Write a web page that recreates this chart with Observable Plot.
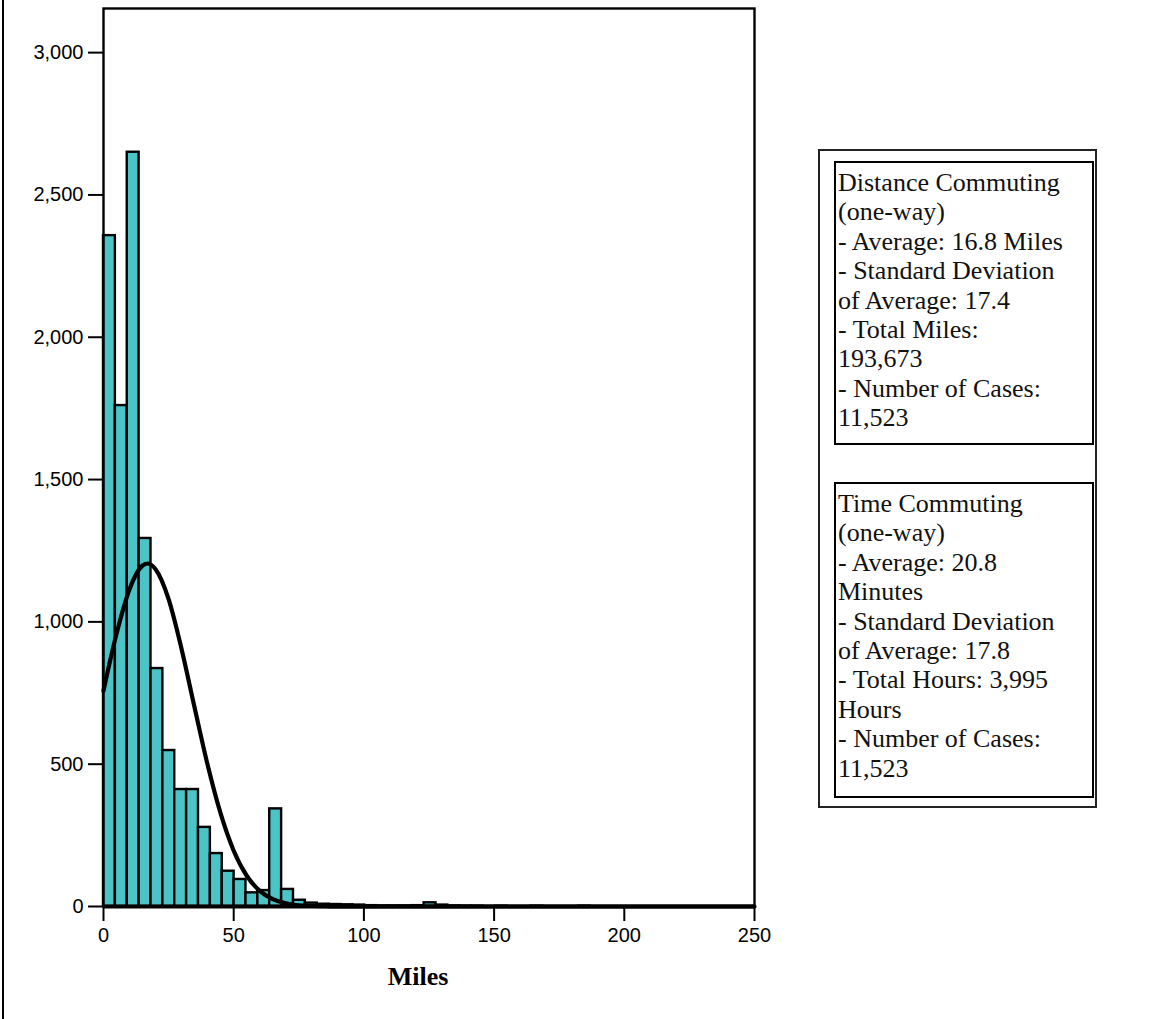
<!DOCTYPE html>
<html>
<head>
<meta charset="utf-8">
<script src="https://cdn.jsdelivr.net/npm/d3@7"></script>
<script src="https://cdn.jsdelivr.net/npm/@observablehq/plot@0.6"></script>
<style>
  html, body { margin: 0; padding: 0; background: #fff; }
  #page { position: relative; width: 1169px; height: 1019px; overflow: hidden; }
  #chart { position: absolute; left: 0; top: 0; }
  .leftline { position: absolute; left: 2px; top: 0; width: 2px; height: 1019px; background: #000; }
  .xlabel { position: absolute; top: 962px; left: 318px; width: 200px; text-align: center;
            font-family: "Liberation Serif", "Times New Roman", serif; font-weight: bold; font-size: 26px; color: #000; }
  .outer { position: absolute; left: 818px; top: 149px; width: 275px; height: 655px; border: 2px solid #222; box-sizing: content-box; }
  .inner { position: absolute; left: 834px; width: 254px; border: 2px solid #000; box-sizing: content-box;
           font-family: "Liberation Serif", "Times New Roman", serif; font-size: 26px; line-height: 29.4px;
           color: #111; white-space: nowrap; padding: 5px 0 0 2px; overflow: hidden; }
</style>
</head>
<body>
<div id="page">
  <div id="chart"></div>
  <div class="leftline"></div>
  <div class="xlabel" id="xlabel"></div>
  <div class="outer"></div>
  <div class="inner" id="box1" style="top:161px;height:275px;"></div>
  <div class="inner" id="box2" style="top:482px;height:307px;"></div>
</div>
<script>
// ---- data ----
const binWidth = 4.56; // miles per histogram bin
const binCounts = [2357, 1760, 2650, 1293, 836, 548, 411, 411, 278, 186, 124, 95, 48, 56, 343, 60,
                   22, 12, 8, 7, 6, 5, 3, 2, 2, 2, 3, 13, 5, 2, 1, 1, 0, 1, 0, 0, 1, 0, 0, 0,
                   1, 0, 0, 0, 0, 0, 0, 0, 0, 0, 0, 0, 0, 0];
const curveMiles = [0, 5, 10, 15, 17, 20, 25, 30, 35, 40, 45, 50, 55, 60, 65, 70, 75, 80, 85, 90, 100, 250];
const curveCount = [758, 958, 1115, 1198, 1205, 1185, 1080, 904, 698, 497, 326, 196, 108, 55, 26, 11, 4, 2, 1, 0, 0, 0];
const xTicks = [0, 50, 100, 150, 200, 250];
const yTicks = [0, 500, 1000, 1500, 2000, 2500, 3000];
const xTitle = "Miles";
const box1Lines = ["Distance Commuting", "(one-way)", "- Average: 16.8 Miles", "- Standard Deviation",
                   "of Average: 17.4", "- Total Miles:", "193,673", "- Number of Cases:", "11,523"];
const box2Lines = ["Time Commuting", "(one-way)", "- Average: 20.8", "Minutes", "- Standard Deviation",
                   "of Average: 17.8", "- Total Hours: 3,995", "Hours", "- Number of Cases:", "11,523"];

// ---- tables built from the arrays ----
const bins = binCounts.map((c, i) => ({x0: i * binWidth, x1: (i + 1) * binWidth, count: c}));
const curve = curveMiles.map((m, i) => ({x: m, y: curveCount[i]}));

const chart = Plot.plot({
  width: 1169,
  height: 1019,
  marginLeft: 103,
  marginRight: 415,
  marginTop: 8,
  marginBottom: 113,
  style: {fontFamily: "'Liberation Sans', Arial, sans-serif", fontSize: "20px", color: "#000", background: "transparent"},
  x: {domain: [0, 250]},
  y: {domain: [0, 3155]},
  marks: [
    Plot.rectY(bins, {x1: "x0", x2: "x1", y: "count", fill: "#4AC4C7", stroke: "#000", strokeWidth: 2.4, inset: 0}),
    Plot.line(curve, {x: "x", y: "y", stroke: "#000", strokeWidth: 4.2, curve: "monotone-x"}),
    Plot.ruleY([0], {stroke: "#000", strokeWidth: 4}),
    Plot.frame({stroke: "#000", strokeWidth: 2.4}),
    Plot.axisX(xTicks, {tickSize: 15, tickPadding: 6, strokeWidth: 2, fontSize: 20, label: null, tickFormat: d3.format("d")}),
    Plot.axisY(yTicks, {tickSize: 15, tickPadding: 5, strokeWidth: 2, fontSize: 20, label: null, tickFormat: d3.format(",")})
  ]
});
document.getElementById("chart").appendChild(chart);
document.getElementById("xlabel").textContent = xTitle;

function fillBox(id, lines) {
  const el = document.getElementById(id);
  lines.forEach(l => { const d = document.createElement("div"); d.textContent = l; el.appendChild(d); });
}
fillBox("box1", box1Lines);
fillBox("box2", box2Lines);
</script>
</body>
</html>
